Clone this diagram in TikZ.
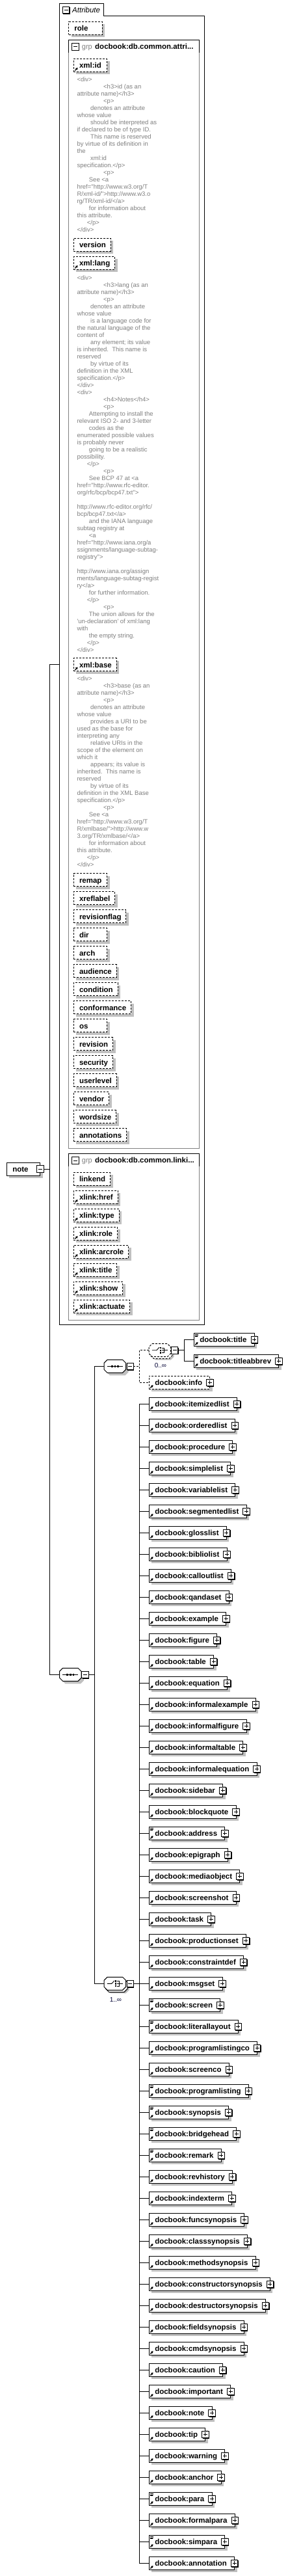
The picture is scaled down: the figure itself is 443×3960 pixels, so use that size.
\documentclass[tikz,border=0pt]{standalone}
\usepackage{fontspec}
\setmainfont{Liberation Sans}
\usetikzlibrary{arrows.meta}
\pgfdeclarelayer{bg}
\pgfsetlayers{bg,main}
\definecolor{shadowc}{RGB}{192,192,192}
\definecolor{docgray}{RGB}{128,128,128}
\newcommand\padbox[4]{\setbox0=\hbox{\hspace*{#1}#4\hspace*{#2}}\ifdim\wd0<#3\relax\hbox to #3{\unhbox0\hfil}\else\box0\fi}
\newcommand\docln[2]{\noindent\hspace*{#1}#2\par}
\newcommand\LnZ[1]{\docln{0pt}{#1}}
\newcommand\LnA[1]{\docln{40.7pt}{#1}}
\newcommand\LnB[1]{\docln{20.7pt}{#1}}
\newcommand\LnC[1]{\docln{18.4pt}{#1}}
\newcommand\LnD[1]{\docln{15.4pt}{#1}}
\newcommand\qd{\textquotedbl}
\newcommand\docsetup{\hsize=190pt\parindent=0pt\parskip=0pt\baselineskip=11pt\lineskiplimit=-20pt\lineskip=0pt\rightskip=0pt plus 1fil\relax}
\tikzset{
  ln/.style={line width=1pt},
  dsh/.style={line width=1pt, dash pattern=on 3pt off 2pt},
  elem/.style={draw, fill=white, line width=1pt, anchor=north west, inner sep=0pt, outer sep=0pt, minimum height=20pt, text height=9.4pt, text depth=0.6pt, font=\fontsize{11.5}{13}\selectfont\bfseries},
  attb/.style={elem, dash pattern=on 3pt off 2pt},
  icon/.style={draw, fill=white, line width=0.8pt, minimum size=10.4pt, inner sep=0pt, outer sep=0pt},
  minusic/.style={icon, path picture={\draw[line width=1pt] ([xshift=2.2pt]path picture bounding box.west) -- ([xshift=-2.2pt]path picture bounding box.east);}},
  plusicn/.style={icon, path picture={\draw[line width=1pt] ([xshift=2.2pt]path picture bounding box.west) -- ([xshift=-2.2pt]path picture bounding box.east) ([yshift=-2.2pt]path picture bounding box.north) -- ([yshift=2.2pt]path picture bounding box.south);}},
  comp/.style={inner sep=0pt, outer sep=0pt, minimum width=33.5pt, minimum height=20pt},
  doc/.style={anchor=base west, inner sep=0pt, text=docgray, font=\fontsize{9.5}{11}\selectfont},
  mult/.style={font=\fontsize{10}{12}\selectfont, inner sep=0pt, text=black!80!blue},
  grplbl/.style={anchor=base west, inner sep=0pt, text=docgray, font=\fontsize{11}{13}\selectfont},
  grpname/.style={anchor=base west, inner sep=0pt, font=\fontsize{11.5}{13}\selectfont\bfseries},
}
\newcommand\shad[1]{\begin{pgfonlayer}{bg}\fill[shadowc] ([shift={(4,4)}]#1.north west) rectangle ([shift={(4,4)}]#1.south east);\end{pgfonlayer}}
\newcommand\icn[3]{\fill[black] ([shift={(1,1)}]#3) +(-5.2,-5.2) rectangle +(5.2,5.2);\node[#1] (#2) at (#3) {};}
\newcommand\arric[1]{\draw[line width=1.3pt,-{Triangle[length=3pt,width=3.8pt]}] ([shift={(2,-1.8)}]#1.south west) -- ([shift={(6.3,-6.1)}]#1.south west);}
\newcommand\linesic[1]{\draw[line width=0.7pt] ([shift={(1.6,2)}]#1.north west) -- ++(5.2,0) ([shift={(1.6,3.7)}]#1.north west) -- ++(5.2,0) ([shift={(1.6,5.4)}]#1.north west) -- ++(4.2,0);}
\newcommand\elbox[5]{\node[elem] (#1) at (#2,#3) {\padbox{9pt}{11.7pt}{0pt}{#4}};\shad{#1}\arric{#1}\ifnum#5=1 \linesic{#1}\fi\icn{plusicn}{#1p}{#1.east}}
\newcommand\attbox[5]{\node[attb] (#1) at (#2,#3) {\padbox{8.7pt}{7.4pt}{51.4pt}{#4}};\shad{#1}\ifnum#5=1 \arric{#1}\fi}
\newcommand\octdraw[4]{\draw[#2]
 ([xshift=#3pt+5pt,yshift=-#4pt]#1.north west) --
 ([xshift=#3pt-5pt,yshift=-#4pt]#1.north east) --
 ([xshift=#3pt,yshift=-#4pt-5pt]#1.north east) --
 ([xshift=#3pt,yshift=-#4pt+5pt]#1.south east) --
 ([xshift=#3pt-5pt,yshift=-#4pt]#1.south east) --
 ([xshift=#3pt+5pt,yshift=-#4pt]#1.south west) --
 ([xshift=#3pt,yshift=-#4pt+5pt]#1.south west) --
 ([xshift=#3pt,yshift=-#4pt-5pt]#1.north west) -- cycle;}
\newcommand\seqsym[1]{\draw[line width=1pt] ([xshift=4.7pt]#1.west) -- ([xshift=-4.7pt]#1.east);
 \foreach \dx in {-4.6,0,4.6} \fill ([xshift=\dx pt]#1.center) +(-1.3,-1.3) rectangle +(1.3,1.3);}
\newcommand\chosym[1]{%
 \draw[line width=0.9pt] ([xshift=4.7pt]#1.west) -- ([xshift=-5pt]#1.center) -- ([xshift=-0.8pt,yshift=4.5pt]#1.center);
 \foreach \dy in {-3.8,0,3.8} \fill ([xshift=1.2pt,yshift=\dy pt]#1.center) +(-1.2,-1.2) rectangle +(1.2,1.2);
 \draw[line width=0.8pt] ([xshift=3.2pt,yshift=3.8pt]#1.center) -- ([xshift=7pt,yshift=3.8pt]#1.center) -- ([xshift=7pt,yshift=-3.8pt]#1.center) -- ([xshift=3.2pt,yshift=-3.8pt]#1.center)
   ([xshift=3.2pt]#1.center) -- ([xshift=-4.7pt]#1.east);}
\newcommand\seqoct[1]{\begin{pgfonlayer}{bg}\octdraw{#1}{fill=shadowc,draw=none}{4}{4}\end{pgfonlayer}\octdraw{#1}{ln,fill=white}{0}{0}\seqsym{#1}}
\newcommand\choct[2]{\begin{pgfonlayer}{bg}\octdraw{#1}{fill=shadowc,draw=none}{5}{5}\end{pgfonlayer}\octdraw{#1}{#2,fill=white}{2.5}{3}\octdraw{#1}{#2,fill=white}{0}{0}\chosym{#1}}
\begin{document}
\begin{tikzpicture}[x=1pt,y=-1pt]
\begin{pgfonlayer}{bg}\fill[white] (0,0) rectangle (443,3960);\end{pgfonlayer}
\useasboundingbox (0,0) rectangle (443,3960);

% Attribute frame
\draw[ln] (159.3,24.3) -- (314.3,24.3) -- (314.3,2036) -- (91.3,2036) -- (91.3,5.3) -- (159.3,5.3) -- cycle;
\coordinate (tabm) at (101.5,15.3);
\icn{minusic}{tabmin}{tabm}
\node[anchor=base west, inner sep=0pt, font=\fontsize{11.5}{13}\selectfont\itshape] (tabtxt) at (111,19.4) {Attribute};

\attbox{role}{105.7}{33.3}{role}{0}

% group 1
\draw[ln, docgray] (105.3,80.7) -- (105.3,1765.3) -- (306.3,1765.3) -- (306.3,80.7);
\draw[ln] (105.3,80.7) -- (105.3,61.3) -- (306.3,61.3) -- (306.3,80.7);
\coordinate (g1m) at (115.8,71.7);
\icn{minusic}{g1min}{g1m}
\node[grplbl] (g1l) at (125.7,75.4) {grp};
\node[grpname] (g1n) at (146,75.4) {docbook:db.common.attri...};

\attbox{xmlid}{113.3}{90.3}{xml:id}{1}
\node[doc] (d1) at (118.3,125.9) {\vtop{\docsetup
\LnZ{<div>}
\LnA{<h3>id (as an}
\LnZ{attribute name)</h3>}
\LnA{<p>}
\LnB{denotes an attribute}
\LnZ{whose value}
\LnB{should be interpreted as}
\LnZ{if declared to be of type ID.}
\LnB{This name is reserved}
\LnZ{by virtue of its definition in}
\LnZ{the}
\LnB{xml:id}
\LnZ{specification.</p>}
\LnA{<p>}
\LnC{See <a}
\LnZ{href=\qd http://www.w3.org/T}
\LnZ{R/xml-id/\qd>http://www.w3.o}
\LnZ{rg/TR/xml-id/</a>}
\LnC{for information about}
\LnZ{this attribute.}
\LnD{</p>}
\LnZ{</div>}
}};
\attbox{version}{113.3}{366.3}{version}{0}
\attbox{xmllang}{113.3}{394.3}{xml:lang}{1}
\node[doc] (d2) at (118.3,430.2) {\vtop{\docsetup
\LnZ{<div>}
\LnA{<h3>lang (as an}
\LnZ{attribute name)</h3>}
\LnA{<p>}
\LnB{denotes an attribute}
\LnZ{whose value}
\LnB{is a language code for}
\LnZ{the natural language of the}
\LnZ{content of}
\LnB{any element; its value}
\LnZ{is inherited.\ \ This name is}
\LnZ{reserved}
\LnB{by virtue of its}
\LnZ{definition in the XML}
\LnZ{specification.</p>}
\LnZ{</div>}
\LnZ{<div>}
\LnA{<h4>Notes</h4>}
\LnA{<p>}
\LnC{Attempting to install the}
\LnZ{relevant ISO 2- and 3-letter}
\LnC{codes as the}
\LnZ{enumerated possible values}
\LnZ{is probably never}
\LnC{going to be a realistic}
\LnZ{possibility.}
\LnD{</p>}
\LnA{<p>}
\LnC{See BCP 47 at <a}
\LnZ{href=\qd http://www.rfc-editor.}
\LnZ{org/rfc/bcp/bcp47.txt\qd>}
\LnZ{\mbox{}}
\LnZ{http://www.rfc-editor.org/rfc/}
\LnZ{bcp/bcp47.txt</a>}
\LnC{and the IANA language}
\LnZ{subtag registry at}
\LnC{<a}
\LnZ{href=\qd http://www.iana.org/a}
\LnZ{ssignments/language-subtag-}
\LnZ{registry\qd>}
\LnZ{\mbox{}}
\LnZ{http://www.iana.org/assign}
\LnZ{ments/language-subtag-regist}
\LnZ{ry</a>}
\LnC{for further information.}
\LnD{</p>}
\LnA{<p>}
\LnC{The union allows for the}
\LnZ{\textquotesingle un-declaration\textquotesingle{} of xml:lang}
\LnZ{with}
\LnC{the empty string.}
\LnD{</p>}
\LnZ{</div>}
}};
\attbox{xmlbase}{113.3}{1011.7}{xml:base}{1}
\node[doc] (d3) at (118.3,1046.9) {\vtop{\docsetup
\LnZ{<div>}
\LnA{<h3>base (as an}
\LnZ{attribute name)</h3>}
\LnA{<p>}
\LnB{denotes an attribute}
\LnZ{whose value}
\LnB{provides a URI to be}
\LnZ{used as the base for}
\LnZ{interpreting any}
\LnB{relative URIs in the}
\LnZ{scope of the element on}
\LnZ{which it}
\LnB{appears; its value is}
\LnZ{inherited.\ \ This name is}
\LnZ{reserved}
\LnB{by virtue of its}
\LnZ{definition in the XML Base}
\LnZ{specification.</p>}
\LnA{<p>}
\LnC{See <a}
\LnZ{href=\qd http://www.w3.org/T}
\LnZ{R/xmlbase/\qd>http://www.w}
\LnZ{3.org/TR/xmlbase/</a>}
\LnC{for information about}
\LnZ{this attribute.}
\LnD{</p>}
\LnZ{</div>}
}};
\foreach \nm [count=\k from 0] in {remap,xreflabel,revisionflag,dir,arch,audience,condition,conformance,os,revision,security,userlevel,vendor,wordsize,annotations}{
  \pgfmathsetmacro\yt{1342.7+28*\k}
  \attbox{ga\k}{113.3}{\yt}{\nm}{0}
}

% group 2
\draw[ln, docgray] (105.3,1793) -- (105.3,2029.3) -- (306.3,2029.3) -- (306.3,1793);
\draw[ln] (105.3,1793) -- (105.3,1773.7) -- (306.3,1773.7) -- (306.3,1793);
\coordinate (g2m) at (115.8,1784);
\icn{minusic}{g2min}{g2m}
\node[grplbl] (g2l) at (125.7,1787.8) {grp};
\node[grpname] (g2n) at (146,1787.8) {docbook:db.common.linki...};
\foreach \nm/\fl [count=\k from 0] in {linkend/0,xlink:href/1,xlink:type/1,xlink:role/1,xlink:arcrole/1,xlink:title/1,xlink:show/1,xlink:actuate/1}{
  \pgfmathsetmacro\yt{1802.3+28*\k}
  \attbox{gb\k}{113.3}{\yt}{\nm}{\fl}
}

% root element
\node[elem] (note) at (10.3,1787) {\padbox{9pt}{9pt}{51.4pt}{note}};
\shad{note}
\icn{minusic}{notem}{note.east}

% compositors
\node[comp] (s1) at (108.3,2574.3) {};
\seqoct{s1}
\coordinate (s1mc) at ([xshift=6pt]s1.east);
\icn{minusic}{s1m}{s1mc}

\node[comp] (s2) at (176.8,2100.3) {};
\seqoct{s2}
\coordinate (s2mc) at ([xshift=6.6pt]s2.east);
\icn{minusic}{s2m}{s2mc}

\node[comp] (c1) at (245.8,2075.7) {};
\choct{c1}{dsh}
\coordinate (c1mc) at ([xshift=6pt]c1.east);
\icn{minusic}{c1m}{c1mc}
\node[mult] (c1l) at (247,2098.7) {0..∞};

\node[comp] (c2) at (176.8,3049.3) {};
\choct{c2}{ln}
\coordinate (c2mc) at ([xshift=6.6pt]c2.east);
\icn{minusic}{c2m}{c2mc}
\node[mult] (c2l) at (178,3073.7) {1..∞};

% title / titleabbrev / info
\elbox{title}{298.3}{2049.3}{docbook:title}{1}
\elbox{tabbr}{298.3}{2082.3}{docbook:titleabbrev}{1}
\node[attb] (info) at (229.3,2115.3) {\padbox{9pt}{11.7pt}{0pt}{docbook:info}};
\shad{info}\arric{info}\icn{plusicn}{infop}{info.east}

% choice children
\coordinate (b3x) at (214.3,0);
\foreach \nm/\fl [count=\i from 0] in {itemizedlist/0,orderedlist/0,procedure/0,simplelist/0,variablelist/0,segmentedlist/0,glosslist/0,bibliolist/0,calloutlist/0,qandaset/0,example/0,figure/0,table/0,equation/0,informalexample/0,informalfigure/0,informaltable/0,informalequation/0,sidebar/0,blockquote/0,address/1,epigraph/0,mediaobject/0,screenshot/0,task/0,productionset/0,constraintdef/0,msgset/0,screen/1,literallayout/1,programlistingco/0,screenco/0,programlisting/1,synopsis/1,bridgehead/1,remark/1,revhistory/0,indexterm/0,funcsynopsis/0,classsynopsis/0,methodsynopsis/0,constructorsynopsis/0,destructorsynopsis/0,fieldsynopsis/0,cmdsynopsis/0,caution/0,important/0,note/0,tip/0,warning/0,anchor/0,para/1,formalpara/0,simpara/1,annotation/0}{
  \pgfmathsetmacro\yt{2148.3+33*\i}
  \elbox{ch\i}{229.3}{\yt}{docbook:\nm}{\fl}
  \draw[ln] (ch\i.west) -- (ch\i.west -| b3x);
}

% connectors
\coordinate (b1t) at (76.7,1021.3);
\coordinate (attrL) at (91.3,1021.3);
\draw[ln] (attrL) -- (b1t) -- (b1t |- s1.west) -- (s1.west);
\draw[ln] (notem.east) -- (notem.east -| b1t);
\coordinate (b2x) at (145.3,0);
\draw[ln] (s1m.east) -- (s1m.east -| b2x);
\draw[ln] (s2.west) -- (s2.west -| b2x) -- (c2.west -| b2x) -- (c2.west);
\draw[dsh] (s2m.east) -- (s2m.east -| b3x);
\draw[dsh] (c1.west) -- (c1.west -| b3x) -- (info.west -| b3x) -- (info.west);
\coordinate (b4x) at (283.3,0);
\draw[ln] (c1m.east) -- (c1m.east -| b4x);
\draw[ln] (title.west) -- (title.west -| b4x) -- (tabbr.west -| b4x) -- (tabbr.west);
\draw[ln] (c2m.east) -- (ch27.west);
\draw[ln] (ch0.west -| b3x) -- (ch54.west -| b3x);
\end{tikzpicture}
\end{document}
